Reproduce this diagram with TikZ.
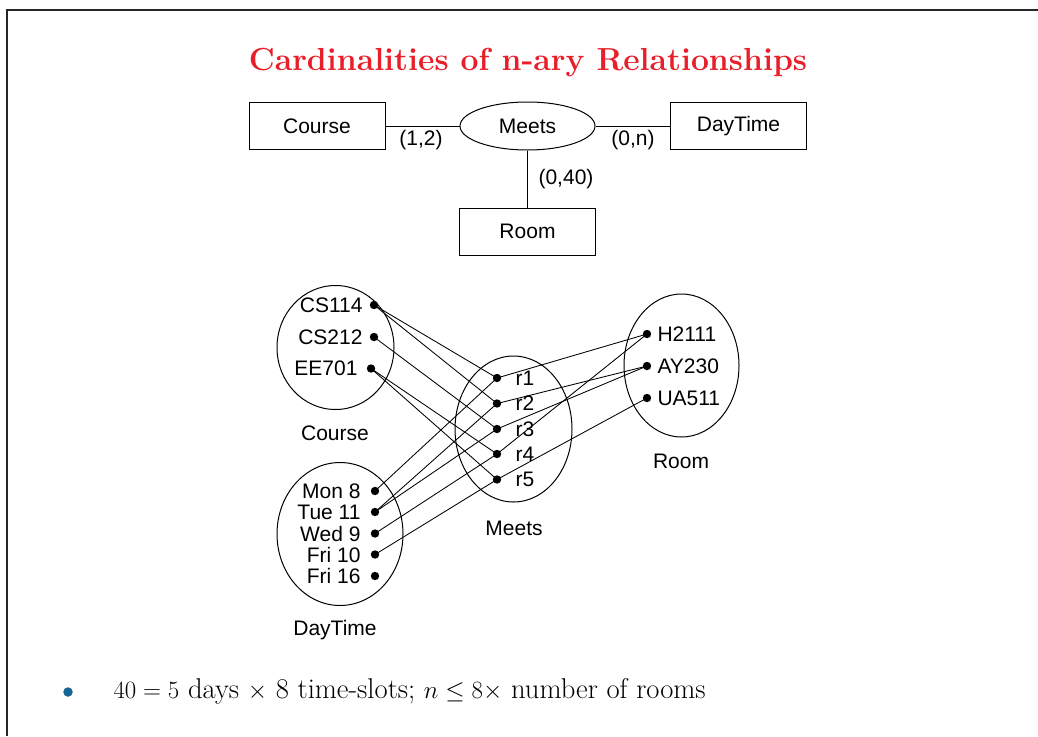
\documentclass[tikz,border=0pt]{standalone}
\usepackage{fontspec}
\newfontfamily\erfont{Liberation Sans}
\usetikzlibrary{shapes.geometric}
\definecolor{titlered}{RGB}{232,30,40}
\definecolor{bulletblue}{RGB}{20,100,150}
\begin{document}
\begin{tikzpicture}[x=1pt,y=-1pt,line width=1pt,
  sansfont/.style={font=\erfont\fontsize{21}{25}\selectfont},
  entity/.style={draw, sansfont, minimum width=136pt, minimum height=47pt, inner sep=0pt},
  relship/.style={draw, ellipse, sansfont, minimum width=135pt, minimum height=48pt, inner sep=0pt},
  card/.style={sansfont, inner sep=0pt},
  setbox/.style={draw, ellipse, inner sep=0pt},
  dot/.style={circle, fill, inner sep=0pt, minimum size=8.4pt},
  lbl/.style={sansfont, inner sep=0pt},
  link/.style={line width=0.85pt}]
\useasboundingbox (0,0) rectangle (1038,736);

% slide frame
\draw[line width=2pt, black!85] (7,736) -- (7,10) -- (1038,10);

% title
\node[font=\bfseries\fontsize{31.9}{36}\selectfont, text=titlered, anchor=base] (title) at (528,70) {Cardinalities of n-ary Relationships};

% ER diagram
\node[entity] (course) at (317,126) {Course};
\node[relship] (meets) at (527.5,126) {Meets};
\node[entity] (daytime) at (738.5,126) {DayTime};
\node[entity] (room) at (527.5,231.5) {Room};
\draw (course) -- (meets);
\draw (meets) -- (daytime);
\draw (meets) -- (room);
\node[card] (c12) at (421,140) {(1,2)};
\node[card] (c0n) at (633,140) {(0,n)};
\node[card] (c040) at (566,179) {(0,40)};

% entity sets
\node[setbox, minimum width=117pt, minimum height=124pt] (cset) at (335.5,347.5) {};
\node[setbox, minimum width=126pt, minimum height=143pt] (dset) at (340,534) {};
\node[setbox, minimum width=117pt, minimum height=146pt] (mset) at (513.5,429) {};
\node[setbox, minimum width=115pt, minimum height=143pt] (rset) at (681.5,365.5) {};

\node[lbl] (cname) at (335,433) {Course};
\node[lbl] (dname) at (335,630) {DayTime};
\node[lbl] (mname) at (514,528) {Meets};
\node[lbl] (rname) at (681,461) {Room};

% courses
\node[dot] (cs114) at (374,305) {};
\node[dot] (cs212) at (374,337) {};
\node[dot] (ee701) at (371,368.5) {};
\node[lbl, anchor=east] (cs114l) at (363,305) {CS114};
\node[lbl, anchor=east] (cs212l) at (363,337) {CS212};
\node[lbl, anchor=east] (ee701l) at (358,368.5) {EE701};

% day/time slots
\node[dot] (mon8) at (375,491) {};
\node[dot] (tue11) at (375,512) {};
\node[dot] (wed9) at (375,533.5) {};
\node[dot] (fri10) at (375,554.5) {};
\node[dot] (fri16) at (375,576) {};
\node[lbl, anchor=east] (mon8l) at (361,491) {Mon 8};
\node[lbl, anchor=east] (tue11l) at (361,512) {Tue 11};
\node[lbl, anchor=east] (wed9l) at (361,533.5) {Wed 9};
\node[lbl, anchor=east] (fri10l) at (361,554.5) {Fri 10};
\node[lbl, anchor=east] (fri16l) at (361,576) {Fri 16};

% relationship instances
\node[dot] (r1) at (497,378) {};
\node[dot] (r2) at (497,403.5) {};
\node[dot] (r3) at (497,429) {};
\node[dot] (r4) at (497,454) {};
\node[dot] (r5) at (497,479.5) {};
\node[lbl, anchor=west] (r1l) at (515,378) {r1};
\node[lbl, anchor=west] (r2l) at (515,403.5) {r2};
\node[lbl, anchor=west] (r3l) at (515,429) {r3};
\node[lbl, anchor=west] (r4l) at (515,454) {r4};
\node[lbl, anchor=west] (r5l) at (515,479.5) {r5};

% rooms
\node[dot] (h2111) at (647,334) {};
\node[dot] (ay230) at (647,366) {};
\node[dot] (ua511) at (647,398) {};
\node[lbl, anchor=west] (h2111l) at (657,334) {H2111};
\node[lbl, anchor=west] (ay230l) at (657,366) {AY230};
\node[lbl, anchor=west] (ua511l) at (657,398) {UA511};

% instance links
\draw[link] (cs114.center) -- (r1.center);
\draw[link] (cs114.center) -- (r2.center);
\draw[link] (cs212.center) -- (r3.center);
\draw[link] (ee701.center) -- (r4.center);
\draw[link] (ee701.center) -- (r5.center);
\draw[link] (mon8.center) -- (r1.center);
\draw[link] (tue11.center) -- (r2.center);
\draw[link] (tue11.center) -- (r3.center);
\draw[link] (wed9.center) -- (r4.center);
\draw[link] (fri10.center) -- (r5.center);
\draw[link] (r1.center) -- (h2111.center);
\draw[link] (r2.center) -- (ay230.center);
\draw[link] (r3.center) -- (ay230.center);
\draw[link] (r4.center) -- (h2111.center);
\draw[link] (r5.center) -- (ua511.center);

% bullet note
\node[circle, fill=bulletblue, inner sep=0pt, minimum size=9.5pt] (bullet) at (68,692) {};
\node[anchor=base west, inner sep=0pt, font=\fontsize{28.6}{33}\selectfont] (note) at (113,698)
  {$40 = 5$ days $\times$ 8 time-slots; $n \leq 8\times$ number of rooms};
\end{tikzpicture}
\end{document}
